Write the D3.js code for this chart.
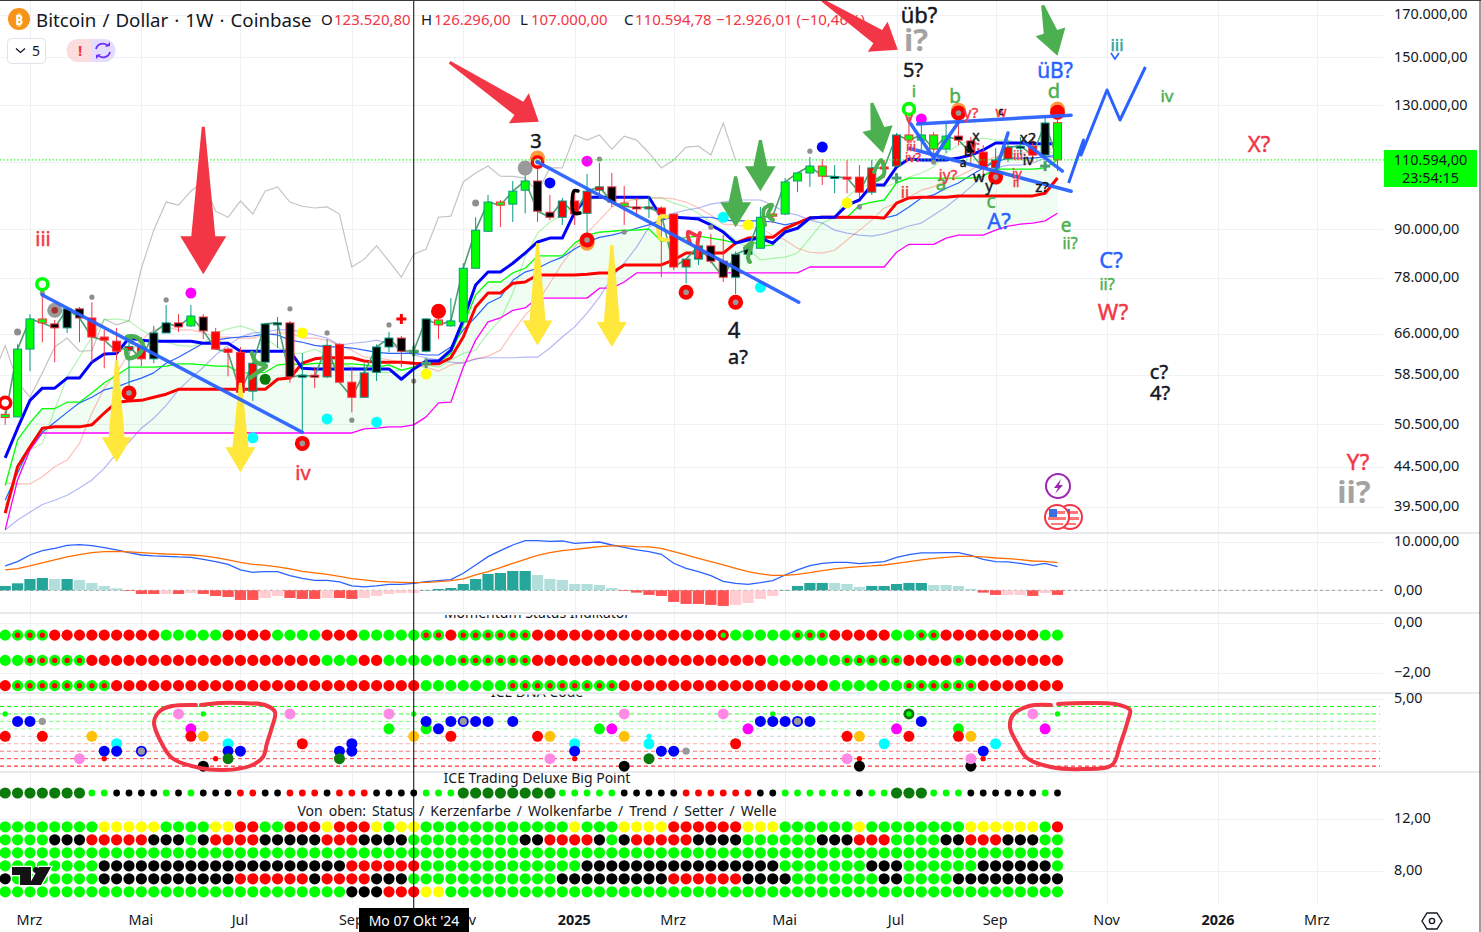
<!DOCTYPE html>
<html><head><meta charset="utf-8">
<style>html,body{margin:0;padding:0;background:#fff;overflow:hidden}svg{display:block}text{font-family:"Noto Sans",sans-serif}</style>
<script src="https://cdn.jsdelivr.net/npm/d3@7"></script>
</head><body><svg id="c" width="1481" height="932"></svg>
<script>
// ---------- DATA (prices in thousand USD) ----------
const opens=[52,51.6,63.1,69,68,67.2,71.1,69.2,65.4,64.6,62.9,63.6,61.3,66.2,68.2,67.6,69.4,66.4,63.1,62.5,55.7,60.7,68.1,68.2,58.1,58.4,58.1,64,57.2,54.7,58.9,63.5,65.2,62.7,62.7,68.8,67.6,68.4,80.2,89.5,97.6,97,101.1,103.9,94.7,93.3,97.9,94.4,101.1,102.1,97.3,96.2,96,95.9,94.2,80.5,82.4,85.7,81.9,78.1,83.6,85.1,94.2,94.2,103.9,106.4,108.6,105.1,105.1,105.1,100.5,108.3,108.6,119.1,117.3,119.1,114.2,118.7,117,113.2,108,110.9,114.9,115.2,112.2,123.52];
const highs=[52.6,64,70,74.5,68.8,71.5,71.5,72.5,66.8,67.2,65.4,65.4,67.6,71.9,70,71.9,70,67.2,63.5,63.5,60.5,68.2,69.4,68.6,62.3,59.8,65,64.2,59.6,60.5,64,66.4,65.6,64.2,69,69.2,73.4,81.4,93.3,99.7,98.2,103.9,109.6,113.2,99.7,98.8,101.1,106.1,109.6,106.4,102.4,98.8,99.4,96.4,94.2,82.4,85.7,88.8,88.5,84.3,86.4,96.2,94.4,104.8,106.4,111.6,110.9,108.9,110.6,108.9,110.6,110.6,119.8,124.9,123.7,120.1,123.4,124.9,118.4,115.6,114.5,117.3,118.4,118.4,125.6,126.3];
const lows=[50.4,51.6,59.1,64.4,60.7,66.2,64.4,60.7,59.6,60.5,55.9,60,60.5,66.2,66.4,67.4,65,63.1,58.2,53.4,54.1,60.5,63.3,57.1,49.3,56.2,57.9,57.2,52.3,54.6,57.4,62.5,59.8,61.1,62.5,65,67.4,68.4,80.2,89.3,90.6,92,94.4,92,92.5,91.2,91.2,89,98.8,96.2,91.2,93.3,93.1,78.1,79.8,76.7,81,81.4,77,74.3,81.4,85.1,91.7,93.9,100.5,102.1,102.7,100.2,100.2,98.8,99.7,104.8,108.3,115.6,112.9,110.6,112.9,115.6,109.6,105.1,104.2,109.9,112.2,109.9,111.6,107];
const closes=[51.5,63.1,69,68.2,67.2,71.1,69.2,65.4,64.8,62.7,63.6,61.3,66.2,68.2,67.4,69.6,66.6,63.1,62.5,55.5,60.5,68,68.2,58.1,58.4,58.2,63.8,57.2,54.7,58.8,63.5,65.2,62.7,62.8,69,67.8,68.6,80.2,89.8,97.6,96.7,100.8,103.9,95,93.3,97.9,94.2,100.8,102.1,97.6,96.4,95.9,96.2,94.2,80.5,82.4,85.7,81.9,78.1,83.6,84.9,93.3,93.6,103.6,106.4,108.6,105.4,105.3,104.8,100.5,108,108,119.1,117.3,119.1,114.2,118.7,117.3,112.9,108,110.6,114.9,115.2,112.2,123.4,110.594];
const bodyFills="G4 K3 R5 K3 G1 K1 R4 K5 R4 K5 G8 K2 R4 K1 G1 K1 R5 K4 G6 K1 R5 G4 K2 R3 K1 R1 K1 G2";
const priceTicks=[170,150,130,110,90,78,66,58.5,50.5,44.5,39.5];
const timeTickBars=[2,11,19,28,37,46,54,63,72,80,89,98,106];
const timeTickLabels=["Mrz","Mai","Jul","Sep","Nov","2025","Mrz","Mai","Jul","Sep","Nov","2026","Mrz"];

const blueThick=[45.7,49.9,54.2,56.2,56.2,57.9,57.9,60.7,62.2,62.3,65.2,64.8,64.6,64.6,64.6,64.6,64.2,64.2,64.2,62.7,62.7,62.7,62.7,62.7,59.6,59.5,59.5,59.5,59.5,59.5,59.5,59.5,57.7,59.5,60.9,60.9,62.9,68.8,76.3,79.3,79.3,81.4,83.9,86.7,87.7,87.7,94.7,99,99,99,99,99,99,93.3,93.3,93.1,92.8,91.2,89.3,86.4,87.2,87.7,86.4,89.3,90.3,93.1,93.3,93.3,96.7,98.2,102.7,102.7,108.3,110.9,110.6,110.6,110.6,111.2,112.2,113.9,116.3,116.3,116.3,116,116,116];
const redThick=[38.8,44.5,47.2,49.9,50.1,50.1,50.1,50.4,52.2,53.9,54.1,54.2,54.7,55.2,56,56,56,56,56,56,56,56,57.7,57.9,60.5,61.3,61.5,61.5,61.5,60.9,60.7,60.7,60.7,60.5,60.4,60.4,61.5,65.4,71.5,74.5,74.5,76.7,77,78.6,78.6,78.6,78.6,78.8,79.1,79.1,81,81,81,81,82.2,83.9,83.9,83.9,83.9,86.4,87.7,87.9,87.9,90.3,91.7,93.1,93.3,93.3,93.3,93.3,93.3,93.1,97.3,98.8,99,99,99,99.4,99.4,99.4,99.4,99.4,99.4,99.4,100.2,104.8];
const limeLine=[42.1,48.2,50.7,52.9,52.9,53.9,53.9,55.4,57.1,58.4,59.8,59.8,59.8,60,60.4,60.4,60.2,60,60,58.8,58.8,58.9,60.2,60.4,60.2,60.5,60.5,60.4,60.4,60.2,59.8,60.2,59.3,59.8,60.7,60.7,62.3,67.8,74.1,77,77,79.1,80.2,83.2,83.2,83.2,86.4,88.5,89.3,89.5,89.8,89.8,90.1,86.9,87.2,87.9,88.2,87.7,87.2,86.4,87.4,85.7,85.9,89.8,91.7,93.3,93.3,93.3,93.3,96.7,97.6,98.2,103.3,104.8,104.8,104.8,104.8,104.8,104.8,105.4,107.6,107.6,107.6,107.6,108,110.6];
const blueThin=[40.3,43.7,47.2,49.3,50.8,52.3,53.8,54.7,55.9,56.4,57.2,57.9,58.8,60.5,61.6,62.9,64.2,64.8,65.2,65.4,65.6,66,65.8,64.8,64.4,63.8,63.5,63.5,63.3,62.9,62.5,62.3,62.3,62.3,62,62,63.5,66.8,69.4,72.3,73.6,77.4,79.3,80.2,81.7,82.9,84.9,86.7,87.9,88.5,89.3,90.3,91.2,92.5,93.3,93.3,93.3,93.3,92.5,92.3,92.3,92.3,92,91.2,92,93.1,93.3,93.1,93.1,93.1,93.1,93.1,93.9,96.2,98.8,99.7,101.7,103.3,105.7,108,109.9,111.2,111.2,111.2,111.6,112.2];
const bluePale=[36.9,38,38.9,39.8,40.3,40.9,41.8,42.8,44.3,46.3,47.9,49.9,51.4,53.4,55.9,57.9,59.8,62,63.8,65.4,66.2,66.4,66.8,66.8,66.4,65.8,65.2,63.8,64.2,64.4,64.8,64.2,62.9,62,61.5,61.1,60.7,60.5,61.3,61.5,61.5,61.5,61.6,61.6,63.3,65.4,67.4,70.2,73.6,78.1,81.4,85.4,90.6,93.1,94.4,95.3,95.9,97,97.6,98.2,98.2,98.2,96.7,94.7,93.9,92.5,91.7,89.8,89,88.5,88.2,88.8,89.8,90.9,91.7,93.9,96.2,99,102.1,105.7,108,108.9,108.9,109.6,111.2,111.6];
const magentaLine=[36.9,42.8,46.8,49.2,49.2,49.2,49.2,49.2,49.2,49.2,49.2,49.2,49.2,49.2,49.2,49.2,49.2,49.2,49.2,49.2,49.2,49.2,49.2,49.2,49.2,49.2,49.2,49.2,49.2,49.8,49.9,50.1,50.1,50.4,51.6,53.8,53.9,59.8,64.8,68.4,69.2,70.8,71.3,73.4,73.4,73.4,73.4,73.4,75.6,75.6,77,79.1,79.1,79.1,79.1,79.1,79.1,79.1,79.1,79.1,79.1,79.1,79.1,79.1,79.1,80.5,80.5,80.5,80.5,80.5,80.5,80.5,84.1,86.1,86.1,86.1,87.7,88.5,88.5,88.5,89.8,90.9,91.4,91.7,92.3,94.4];
const redPale=[42.4,42.3,42.3,43.2,44.5,45.4,47.7,52.2,56.2,58.8,62.3,64.8,66.8,67.4,66.8,66.8,66.2,65.4,65.4,65.2,65.2,65.8,66.2,66.2,65.2,65.2,64.8,63.8,62.9,61.6,61.5,61.1,60.7,60.2,59.8,59.1,60.2,60.7,61.3,61.8,62.9,66.4,69.8,72.5,76.7,81.4,85.4,89,92.5,96.2,97.6,98.5,98.8,98.8,98.5,97.6,95.9,93.9,91.4,91.2,90.6,90.3,88.5,87.2,85.1,84.1,83.9,84.6,87.2,89.8,92.5,95.9,97.3,99,101.1,102.1,104.2,105.4,107.3,109.9,111.6,112.5,112.9,113.2,113.9,114.5];
const greenPale=[39.7,42.8,46.8,47.7,52.7,58.1,61.6,65.4,68.8,69,68.6,66.8,65.4,64.4,63.8,63.6,64.2,66.2,67,67.6,66.8,65.2,63.5,62.3,62.3,63.1,62,60.5,59.8,59.3,58.9,58.9,59.3,59.6,60.2,59.8,61.1,62.3,62.9,66.2,68.8,74.5,82.9,89,92,93.9,96.7,98.2,98.8,98.8,98.8,98.2,98.8,98.8,97.3,96.2,94.4,92,89.8,87.2,85.1,82.2,82.6,82.9,83.9,87.7,91.7,93.3,99,102.1,102.7,102.1,103.3,105.1,106.4,108.3,112.9,115.6,117.3,118,117.3,117.3,116.3,115.6,114.5,111.6];

const macdHist=[900,1450,2340,2550,2340,2340,2140,1520,900,410,-140,-760,-760,-760,-760,-550,-760,-1170,-1380,-2000,-2000,-1590,-1170,-1590,-1790,-1790,-1590,-1590,-1790,-1590,-1170,-760,-550,-550,70,280,480,1310,2340,3380,3580,4000,4000,3170,2340,2140,1310,1310,1100,480,-140,-480,-960,-1170,-2410,-2820,-2820,-3030,-3240,-3030,-2620,-1790,-1170,70,900,1520,1520,1520,1310,690,900,900,1310,1520,1520,1100,1100,900,280,-480,-960,-960,-960,-1170,-550,-960];
const macdHistColors="D4 L1 D1 L4 r3 p1 r1 p1 r5 p2 r3 p1 r2 p5 D9 L7 r9 p4 D4 L3 D5 L4 r2 p2 r1 p1 r1";
const macdLine=[5040,5930,7310,8210,8690,9310,9450,9250,8830,8350,7800,7310,7110,7040,6900,6830,6420,5930,5380,4210,3730,3860,3860,3040,2480,2070,2070,1730,900,690,900,1240,1240,1450,1790,2000,2210,3520,5240,6970,8210,9380,10280,10280,10140,10210,9730,9870,10000,9380,8900,8350,8000,7450,5590,4550,3860,3040,1860,1450,1240,1590,2000,3170,4210,5110,5590,5800,5800,5520,5730,5930,6830,7380,7730,7730,7800,7800,7250,6420,5930,5870,5590,5180,5590,4900];
const signalLine=[4210,4490,5040,5660,6280,6900,7380,7800,8000,8070,7940,7800,7660,7520,7450,7310,7110,6760,6280,5800,5380,5180,4830,4420,3930,3590,3310,2900,2420,2140,1860,1730,1660,1590,1660,1790,2000,2350,3170,3860,4690,5590,6420,7250,7800,8210,8490,8760,9040,9180,9180,9040,8970,8690,8000,7310,6620,5930,5240,4550,3860,3380,3100,3100,3310,3660,4070,4420,4690,4900,5040,5240,5590,5930,6280,6620,6830,7040,7040,6900,6690,6550,6350,6070,6000,5730];
const macdTicks=[10000,0];

const momentumRows=[
 "G1 g3 R9 G5 R4 G4 R3 G5 g2 R1 g6 R15 r1 G5 g3 R5 G2 g2 R8 G2",
 "G2 g5 R19 G3 R2 G6 g6 R19 G6 g5 R4 g1 R8",
 "R1 g8 R25 G7 g9 R17 G6 g6 R7"];
const momentumValues=[-0.5,-1.5,-2.5];
const momentumTicks=[0,-2];
const dnaLevels=[4,3,2,1,0,-1,-2,-3,-4];
const dnaDots=[[0,3,"limeS"],[0,0,"red"],[1,2,"blue"],[2,2,"blue"],[3,2,"grayM"],[3,0,"red"],[6,-3,"pink"],[7,0,"orange"],[8,-2,"blue"],[8,-3,"redS"],[9,-1,"cyan"],[9,-2,"blue"],[11,-2,"blueGray"],[14,3,"pink"],[15,1,"magenta"],[15,0,"red"],[16,3,"limeS"],[16,0,"orange"],[16,-4,"black"],[17,-3,"redS"],[18,-1,"cyan"],[18,-2,"blue"],[18,-3,"dgreen"],[19,-2,"blue"],[23,3,"pink"],[24,-1,"red"],[27,-2,"blue"],[27,-3,"dgreen"],[28,-1,"blue"],[28,-2,"blue"],[31,3,"pink"],[31,1,"lime"],[33,3,"limeS"],[33,0,"orange"],[34,1,"lime"],[34,2,"blue"],[35,1,"blue"],[36,2,"blue"],[36,0,"red"],[37,2,"blueGray"],[38,2,"blue"],[39,2,"blue"],[41,2,"blue"],[43,0,"red"],[44,0,"orange"],[44,-3,"pink"],[46,-1,"cyan"],[46,-2,"blue"],[46,-3,"redS"],[48,1,"lime"],[49,1,"magenta"],[50,3,"pink"],[50,0,"orange"],[50,-4,"black"],[52,0,"cyanS"],[52,-1,"cyan"],[52,-3,"dgreen"],[53,-2,"blue"],[54,-2,"blue"],[55,-2,"grayM"],[58,3,"pink"],[59,-1,"red"],[60,1,"magenta"],[61,2,"blue"],[62,3,"limeS"],[62,2,"blue"],[63,2,"blue"],[64,2,"blueGray"],[65,2,"blue"],[68,0,"red"],[68,-3,"pink"],[69,0,"orange"],[69,-3,"redS"],[69,-4,"black"],[71,-1,"cyan"],[72,1,"magenta"],[73,3,"dgreenRing"],[73,0,"red"],[74,2,"blue"],[77,1,"lime"],[77,0,"red"],[78,0,"orange"],[78,-4,"black"],[78,-3,"pink"],[79,-2,"blue"],[79,-3,"redS"],[80,-1,"cyan"],[83,3,"pink"],[84,1,"magenta"],[85,3,"limeS"]];
const bigPointRow="D7 L2 K4 L1 K1 L1 K3 R2 K2 R3 K1 R3 K4 L3 D8 L5 K5 R6 K2 L6 K1 L2 D3 L3 K6 L1 K1";
const statusRows=[
 "G8 Y5 G4 Y2 R2 G2 R3 Y1 R3 Y1 G1 Y2 G12 Y1 G3 Y4 R6 Y3 G6 Y1 G8 Y6 G1 R1",
 "G4 K3 R5 K3 G1 K1 R4 K5 R3 K4 G9 K2 R4 K1 G1 K1 R5 K4 G6 K3 R3 G4 K2 R3 K3 G2",
 "G86",
 "G8 K20 R6 G13 K16 G7 K3 G6 K6 G1",
 "K1 G7 K11 R6 K1 R4 K3 G12 K9 R6 K4 G7 K2 G4 K9",
 "G28 K3 R3 Y2 G50"];
const statusValues=[11.4,10.4,9.4,8.4,7.4,6.4];
const bigPointValue=14;
const statusTicks=[12,8];
// signal dots on the price pane: bar, price (k), kind
const mainDots=[[0,53.8,"redOpen"],[1,66.4,"grayM"],[3,74.5,"grayS"],[3,76.5,"limeRing"],[4,70.8,"grayBig"],[7,73.6,"grayS"],[10,55.4,"redGray"],[13,73,"grayS"],[15,74.5,"magenta"],[21,57.7,"dgreen"],[20,48.5,"cyan"],[23,71.1,"grayS"],[24,66.2,"yellow"],[24,47.7,"redGray"],[26,66.2,"grayS"],[26,51.3,"cyan"],[28,51.1,"grayS"],[30,50.8,"cyan"],[31,67.8,"grayS"],[33,57.4,"grayS"],[34,58.6,"yellow"],[35,70.6,"red"],[38,97.3,"grayM"],[42,108,"grayBig2"],[43,111.2,"orange"],[43,109.9,"redOpenGray"],[44,103.3,"blue"],[47,110.2,"magenta"],[47,86.4,"orange"],[47,87.2,"redGray"],[48,110.9,"grayS"],[50,89.3,"grayS"],[55,74.7,"redGray"],[57,90.6,"grayS"],[58,93.3,"cyan"],[59,72.5,"redGray"],[60,91.2,"yellow"],[61,75.8,"cyan"],[65,113.5,"grayS"],[66,114.9,"blue"],[68,97.3,"yellow"],[69,96.2,"grayS"],[73,128.6,"limeRing"],[73,124.9,"grayS"],[74,124.9,"magenta"],[75,109.9,"grayS"],[77,128.2,"orange"],[77,127.1,"redGray"],[80,105.1,"redGray"],[85,128.6,"orange"],[85,127.4,"red"]];
const plusMarks=[[32,69,"#ff0000"],[33,62.7,"#4c9f70"],[34,60.5,"#4c9f70"],[72,104.8,"#4c9f70"],[84,108.6,"#4c9f70"]];
// drawn trend lines: [bar, price] vertices
const trendLines=[
 [[3,74.1],[24,49.3]],
 [[43,109.9],[64.1,72.5]],
 [[73.7,123],[86.1,126.3]],
 [[73,114.5],[86.1,100.8]],
 [[73.1,123.4],[75,111.2],[77,123.7]],
 [[80.1,108],[81,119.8]],
 [[82.3,116.6],[85.4,107]]];
const forecastLine=[[85.9,103.3],[87.1,117.3],[86.9,112.2],[89,136.1],[90.05,124.5],[92.1,145.7]];
// drawn arrows: tail bar, tail price, tip bar, tip price, kind
const bigArrows=[[16,122,16,78.8,"redV"],[35.9,147.8,43.1,123.9,"redD"],[66,177.6,72.1,153.3,"redD"],
 [9,61.1,9,45.1,"yellow"],[19,57.1,19,43.8,"yellow"],[43,86.4,43,63.8,"yellow"],[49,85.9,49,63.5,"yellow"],
 [59,105.4,59,90.6,"green"],[61,117.3,61,100.8,"green"],[70,131,70.9,112.9,"green"],[83.8,175,85,150.6,"green"]];
const lastPrice=110.594;

// ---------- HELPERS ----------
const expand=s=>s.trim().split(/\s+/).flatMap(t=>Array(+t.slice(1)).fill(t[0]));
const svg=d3.select("#c");
const W=1481,H=932,PW=1383;
const x=d3.scaleLinear().domain([0,85]).range([5.2,1057.5]);
const y=d3.scaleLog().domain([39.5,170]).range([507,15]);
const yM=d3.scaleLinear().domain([0,10000]).range([590.3,542]);
const yS=d3.scaleLinear().domain([0,-2]).range([622.5,673]);
const yD=d3.scaleLinear().domain([0,5]).range([736.3,699]);
const yT=d3.scaleLinear().domain([8,12]).range([871,819]);
const deNum=(v,d=2)=>v.toLocaleString("de-DE",{minimumFractionDigits:d,maximumFractionDigits:d});
const ink="#131722",RED="#f23645",GRN="#4caf50",BLU="#2962ff",TEAL="#089981";
const bars=d3.range(opens.length);
const fillsG=expand(bodyFills);
const fillMap={G:"#00ff00",R:"#ff0000",K:"#000000",Y:"#ffff00"};
svg.append("rect").attr("width",W).attr("height",H).attr("fill","#fff");
const defs=svg.append("defs");
defs.append("clipPath").attr("id","mainClip").append("rect").attr("width",PW).attr("height",532);
defs.append("clipPath").attr("id","momClip").append("rect").attr("y",615).attr("width",PW).attr("height",40);
defs.append("clipPath").attr("id","dnaClip").append("rect").attr("y",694.5).attr("width",PW).attr("height",40);
defs.append("clipPath").attr("id","ictClip").append("rect").attr("y",773).attr("width",PW).attr("height",30);

// grid
const grid=svg.append("g").attr("stroke","#f0f1f4").attr("stroke-width",1).attr("shape-rendering","crispEdges");
const hg=[...priceTicks.map(v=>y(v)),...macdTicks.map(v=>yM(v)),...momentumTicks.map(v=>yS(v)),yD(5),...statusTicks.map(v=>yT(v))];
grid.selectAll("line.h").data(hg).join("line").attr("x1",0).attr("x2",PW).attr("y1",d=>Math.round(d)).attr("y2",d=>Math.round(d));
grid.selectAll("line.v").data(timeTickBars).join("line").attr("x1",d=>Math.round(x(d))).attr("x2",d=>Math.round(x(d))).attr("y1",0).attr("y2",905);
const seps=svg.append("g").attr("stroke","#e8e9ed").attr("stroke-width",2).attr("shape-rendering","crispEdges");
[533,613,693,772].forEach(v=>seps.append("line").attr("x1",0).attr("x2",W).attr("y1",v).attr("y2",v));

// ---- main pane
const main=svg.append("g").attr("clip-path","url(#mainClip)");
main.append("path").datum(bars).attr("fill","rgba(0,220,40,0.06)")
 .attr("d",d3.area().x(i=>x(i)).y0(i=>y(magentaLine[i])).y1(i=>y(limeLine[i])));
const ln=(f)=>d3.line().defined(i=>f(i)!=null).x(i=>x(i)).y(i=>y(f(i)));
const drawL=(arr,col,w)=>main.append("path").datum(bars).attr("fill","none").attr("stroke",col).attr("stroke-width",w).attr("stroke-linejoin","round").attr("d",ln(i=>arr[i]));
// chikou: closes displaced 26 bars back
main.append("path").datum(d3.range(closes.length)).attr("fill","none").attr("stroke","#c4c4c4").attr("stroke-width",1.2)
 .attr("d",d3.line().x(i=>x(i-26)).y(i=>y(closes[i])));
drawL(greenPale,"rgba(0,220,0,0.3)",1.2);
drawL(redPale,"rgba(255,60,40,0.32)",1.2);
drawL(bluePale,"rgba(20,40,230,0.33)",1.2);
drawL(magentaLine,"#ff00ff",1.3);
drawL(blueThin,BLU,1.2);
drawL(limeLine,"#00ff00",1.3);
drawL(redThick,"#ff0000",3);
drawL(blueThick,"#0000ff",3);
drawL(closes,"#4c9f70",1.6);
// candles
const cG=main.append("g");
const up=i=>closes[i]>=opens[i];
cG.selectAll("line").data(bars).join("line").attr("x1",i=>x(i)).attr("x2",i=>x(i)).attr("y1",i=>y(highs[i])).attr("y2",i=>y(lows[i]))
 .attr("stroke",i=>up(i)?TEAL:RED).attr("stroke-width",1);
cG.selectAll("rect").data(bars).join("rect").attr("x",i=>x(i)-4).attr("width",8)
 .attr("y",i=>Math.min(y(opens[i]),y(closes[i]))).attr("height",i=>Math.max(2,Math.abs(y(opens[i])-y(closes[i]))))
 .attr("fill",i=>fillMap[fillsG[i]]).attr("stroke",i=>up(i)?TEAL:RED).attr("stroke-width",1);
// plus marks
plusMarks.forEach(([b,v,c])=>{const g=main.append("g").attr("transform",`translate(${x(b)},${y(v)})`).attr("stroke",c).attr("stroke-width",3);
 g.append("line").attr("x1",-5).attr("x2",5);g.append("line").attr("y1",-5).attr("y2",5);});
// dots
const drawDot=(g,cx,cy,k)=>{
 const c=(r,f,st,sw)=>g.append("circle").attr("cx",cx).attr("cy",cy).attr("r",r).attr("fill",f).attr("stroke",st||"none").attr("stroke-width",sw||0);
 switch(k){
  case"grayS":c(2.6,"#8e8e8e");break;
  case"grayM":c(3.5,"#8e8e8e");break;
  case"grayBig":c(7.5,"#9a9a9a");c(3.2,"#a5302c");break;
  case"grayBig2":c(7.5,"#9a9a9a");break;
  case"red":c(7.5,"#ff0000");break;
  case"redGray":c(7.5,"#ff0000");c(2.8,"#9a9a9a");break;
  case"redOpen":c(5.5,"#fff","#ff0000",3.6);break;
  case"redOpenGray":c(5.2,"#fff","#ff0000",3.4);c(2.5,"#8e8e8e");break;
  case"limeRing":c(5.5,"#fff","#00ff00",3.6);break;
  case"orange":c(7.5,"#ff9a3c");break;
  case"magenta":c(5.5,"#ff00ff");break;
  case"blue":c(5.5,"#0000ff");break;
  case"cyan":c(5.5,"#00ffff");break;
  case"yellow":c(5.5,"#ffff00");break;
  case"dgreen":c(5.5,"#0a7a0a");break;
 }};
mainDots.forEach(([b,v,k])=>drawDot(main,x(b),y(v),k));
// dotted last price line
svg.append("line").attr("x1",0).attr("x2",1384).attr("y1",y(lastPrice)).attr("y2",y(lastPrice)).attr("stroke","#00ff00").attr("stroke-width",1).attr("stroke-dasharray","1.5 2");

// big arrows
const arrowKinds={redV:{c:RED,s:12,h:23,l:38},redD:{c:RED,s:8,h:18,l:24},yellow:{c:"#ffe83b",s:8,h:15,l:25},green:{c:GRN,s:7,h:15.5,l:25}};
const ov=svg.append("g").attr("clip-path","url(#mainClip)");
bigArrows.forEach(([tb,tv,pb,pv,k])=>{
 const A=arrowKinds[k],x0=x(tb),y0=y(tv),x1=x(pb),y1=y(pv),L=Math.hypot(x1-x0,y1-y0),ux=(x1-x0)/L,uy=(y1-y0)/L,nx=-uy,ny=ux;
 const bx=x1-ux*A.l,by=y1-uy*A.l;
 const P=[[x0-nx*1.5,y0-ny*1.5],[x0+nx*1.5,y0+ny*1.5],[bx+nx*A.s,by+ny*A.s],[bx+nx*A.h,by+ny*A.h],[x1,y1],[bx-nx*A.h,by-ny*A.h],[bx-nx*A.s,by-ny*A.s]];
 ov.append("path").attr("d",d3.line()(P)+"Z").attr("fill",A.c);
});
// hand brush scribbles
const curve=d3.line().curve(d3.curveCatmullRom);
[[[[132,342],[127,337],[136,337],[143,345],[138,355],[128,358],[126,350]],GRN,4.5],
 [[[252,353],[256,362],[266,366],[258,372],[250,378]],GRN,4.5],
 [[[690,243],[688,232],[698,236],[700,233],[698,240],[697,256]],RED,4],
 [[[667,217],[660,217],[660,238],[668,240]],"#ffe83b",4],
 [[[578,191],[574,191],[574,213],[580,213]],"#000",3.5],
 [[[765,225],[764,209],[772,205],[768,215],[773,220]],GRN,4],
 [[[745,248],[752,243],[748,258],[750,262]],GRN,4],
 [[[874,172],[881,160],[884,174],[877,180]],GRN,4]].forEach(([p,c,w])=>ov.append("path").attr("d",curve(p)).attr("fill","none").attr("stroke",c).attr("stroke-width",w).attr("stroke-linecap","round"));
// trend lines
const pl=d3.line().x(d=>x(d[0])).y(d=>y(d[1]));
trendLines.forEach(t=>ov.append("path").attr("d",pl(t)).attr("fill","none").attr("stroke",BLU).attr("stroke-width",3.5).attr("stroke-linecap","round").attr("stroke-linejoin","round").attr("opacity",.95));
ov.append("path").attr("d",pl(forecastLine)).attr("fill","none").attr("stroke",BLU).attr("stroke-width",3).attr("stroke-linejoin","round");
ov.append("path").attr("d","M1111 53L1115 59L1119 53").attr("fill","none").attr("stroke",BLU).attr("stroke-width",1.6);

// annotation labels
const labels=[
 ["iii",43,238,20,RED],["iv",303,472,20,RED],["X?",1259,143,22,RED],["W?",1113,311,22,RED],["Y?",1358,461,22,RED],
 ["3",536,140,20,ink],["4",734,329,22,ink],["a?",738,356,20,ink],["c?",1159,371,20,ink],["4?",1160,392,20,ink],["üb?",919,14,22,ink],["5?",913,69,20,ink],
 ["i",914,90,17,GRN],["b",955,96,19,GRN],["d",1054,90,20,GRN],["a",941,183,19,GRN],["c",991,201,19,GRN],["e",1066,225,19,GRN],["ii?",1070,243,16,GRN],["ii?",1107,284,16,GRN],["iii",1117,44,17,"#26a69a"],["iv",1167,95,17,GRN],
 ["üB?",1055,70,21,BLU],["A?",999,220,22,BLU],["C?",1111,259,22,BLU],
 ["ii",905,192,16,RED],["iy?",948,174,15,RED],["y?",971,112,15,RED],["v",909,117,15,RED],["iii",911,146,13,RED],["iv?",913,157,13,RED],["w",1001,111,14,RED],["iii",1018,155,13,RED],["iy",1017,173,13,RED],["ii",1016,182,13,RED],["v:",975,145,13,RED],
 ["x",976,135,14,ink],["b",968,151,13,ink],["a",963,162,12,ink],["w",979,176,15,ink],["y",989,185,15,ink],["x2",1028,137,15,ink],["iv",1028,159,14,ink],["z?",1042,186,15,ink],["c",1001,110,11,ink]
];
labels.forEach(([t,lx,ly,s,c])=>svg.append("text").text(t).attr("x",lx).attr("y",ly).attr("font-size",s).attr("fill",c).attr("stroke",c).attr("stroke-width",.45).attr("text-anchor","middle").attr("dominant-baseline","central"));
[["i?",916,39,31],["ii?",1354,491,31]].forEach(([t,lx,ly,s])=>svg.append("text").text(t).attr("x",lx).attr("y",ly).attr("font-size",s).attr("font-weight",700).attr("fill","#a3a3a3").attr("text-anchor","middle").attr("dominant-baseline","central"));

// small icons
svg.append("circle").attr("cx",1058).attr("cy",486).attr("r",12).attr("fill","#fff").attr("stroke","#9c27b0").attr("stroke-width",2);
svg.append("path").attr("d","M1061 479L1054 488L1058 488L1055 494L1063 485L1059 485Z").attr("fill","#9c27b0");
[1070,1057].forEach(cx=>{const g=svg.append("g");
 g.append("circle").attr("cx",cx).attr("cy",517).attr("r",12).attr("fill","#fff").attr("stroke",RED).attr("stroke-width",2);
 g.append("rect").attr("x",cx-8).attr("y",511).attr("width",16).attr("height",3).attr("fill","#f77");
 g.append("rect").attr("x",cx-9).attr("y",517).attr("width",18).attr("height",3).attr("fill","#f77");
 g.append("rect").attr("x",cx-6).attr("y",523).attr("width",12).attr("height",2).attr("fill","#f77");
 g.append("rect").attr("x",cx-8).attr("y",509).attr("width",8).attr("height",8).attr("fill","#3d6fe0");});

// ---- MACD
const hc={D:"#26a69a",L:"#b2dfdb",r:"#ff5252",p:"#ffcdd2"};
const hcol=expand(macdHistColors);
svg.append("line").attr("x1",0).attr("x2",PW).attr("y1",yM(0)).attr("y2",yM(0)).attr("stroke","#999").attr("stroke-width",1).attr("stroke-dasharray","3 3");
svg.append("g").selectAll("rect").data(bars).join("rect").attr("x",i=>x(i)-5.6).attr("width",11.2)
 .attr("y",i=>Math.min(yM(0),yM(macdHist[i]))).attr("height",i=>Math.abs(yM(macdHist[i])-yM(0))).attr("fill",i=>hc[hcol[i]]);
const lM=d3.line().x((d,i)=>x(i)).y(d=>yM(d));
svg.append("path").attr("d",lM(macdLine)).attr("fill","none").attr("stroke",BLU).attr("stroke-width",1.3);
svg.append("path").attr("d",lM(signalLine)).attr("fill","none").attr("stroke","#ff6d00").attr("stroke-width",1.3);

// ---- Momentum
const dotRow=(vals,cy,r)=>vals.forEach((k,i)=>{svg.append("circle").attr("cx",x(i)).attr("cy",cy).attr("r",r).attr("fill",k==="G"||k==="g"?"#00ff00":"#ff0000");
 if(k==="g"||k==="r")svg.append("circle").attr("cx",x(i)).attr("cy",cy).attr("r",2.6).attr("fill",k==="g"?"#ff0000":"#00ff00");});
momentumRows.forEach((s,j)=>dotRow(expand(s),yS(momentumValues[j]),5.6));
svg.append("text").text("Momentum Status Indikator").attr("x",537).attr("y",612).attr("font-size",14).attr("fill",ink).attr("text-anchor","middle").attr("dominant-baseline","central").attr("clip-path","url(#momClip)");
svg.append("text").text("ICE DNA Code").attr("x",537).attr("y",691).attr("font-size",14).attr("fill",ink).attr("text-anchor","middle").attr("dominant-baseline","central").attr("clip-path","url(#dnaClip)");

// ---- DNA
const dashCol=d3.scaleLinear().domain([4,1,0,-1,-4]).range(["#00ff00","#a6ffa6","#d0d0d0","#ffaaaa","#ff0000"]);
dnaLevels.forEach(l=>svg.append("line").attr("x1",0).attr("x2",1380).attr("y1",yD(l)).attr("y2",yD(l)).attr("stroke",dashCol(l)).attr("stroke-width",1).attr("stroke-dasharray","4 3"));
const dnaStyle={red:["#ff0000",5.5],blue:["#0000ff",5.5],orange:["#ffc107",5.5],pink:["#ff8ae6",5.5],cyan:["#00ffff",5.5],magenta:["#ff00ff",5.5],lime:["#00ff00",5.5],dgreen:["#0a7a0a",5.5],black:["#000",5.5],grayM:["#9a9a9a",3.6],limeS:["#00ff00",2.6],redS:["#ff0000",2.6],cyanS:["#00ffff",2.6]};
dnaDots.forEach(([b,l,k])=>{
 if(k==="blueGray"){svg.append("circle").attr("cx",x(b)).attr("cy",yD(l)).attr("r",5.5).attr("fill","#0000ff");svg.append("circle").attr("cx",x(b)).attr("cy",yD(l)).attr("r",3.6).attr("fill","#9a9a9a");return;}
 if(k==="dgreenRing"){svg.append("circle").attr("cx",x(b)).attr("cy",yD(l)).attr("r",5.5).attr("fill","#0a7a0a");svg.append("circle").attr("cx",x(b)).attr("cy",yD(l)).attr("r",2.6).attr("fill","#00ff00");return;}
 const s=dnaStyle[k];svg.append("circle").attr("cx",x(b)).attr("cy",yD(l)).attr("r",s[1]).attr("fill",s[0]);});
// hand-drawn ovals
[[[196,705],[172,706],[160,711],[154,722],[160,740],[172,758],[200,768],[224,770],[250,766],[263,757],[267,743],[272,727],[275,712],[265,705],[241,703],[220,703],[201,705]],
 [[1051,705],[1029,706],[1013,715],[1010,727],[1017,743],[1027,758],[1051,767],[1083,769],[1112,765],[1120,745],[1128,720],[1130,710],[1115,704],[1085,703],[1058,704]]]
 .forEach(p=>svg.append("path").attr("d",d3.line().curve(d3.curveCatmullRom)(p)).attr("fill","none").attr("stroke",RED).attr("stroke-width",4).attr("stroke-linecap","round"));

// ---- Trading Deluxe / status
svg.append("text").text("ICE Trading Deluxe Big Point").attr("x",537).attr("y",777).attr("font-size",14).attr("fill",ink).attr("text-anchor","middle").attr("dominant-baseline","central").attr("clip-path","url(#ictClip)");
svg.append("text").text("Von oben: Status / Kerzenfarbe / Wolkenfarbe / Trend / Setter / Welle").attr("x",537).attr("y",810).attr("font-size",14).attr("word-spacing",2.4).attr("fill",ink).attr("text-anchor","middle").attr("dominant-baseline","central");
const bpS={D:["#0a7a0a",5.6],L:["#00ff00",3.4],K:["#000",3.4],R:["#ff0000",3.4]};
expand(bigPointRow).forEach((k,i)=>svg.append("circle").attr("cx",x(i)).attr("cy",yT(bigPointValue)).attr("r",bpS[k][1]).attr("fill",bpS[k][0]));
statusRows.forEach((s,j)=>expand(s).forEach((k,i)=>svg.append("circle").attr("cx",x(i)).attr("cy",yT(statusValues[j])).attr("r",5.6).attr("fill",fillMap[k])));
// watermark logo
svg.append("path").attr("d","M12 867H31V885H20V875H12ZM39 867H51L41 885H29Z").attr("fill","#131313").attr("stroke","#fff").attr("stroke-width",2.5).attr("paint-order","stroke");
svg.append("circle").attr("cx",36).attr("cy",870).attr("r",3).attr("fill","#131313");

// ---- crosshair
svg.append("line").attr("x1",x(33)).attr("x2",x(33)).attr("y1",0).attr("y2",910).attr("stroke","#000").attr("stroke-width",1);

// ---- axes
const axisStyle=g=>{g.select(".domain").remove();g.selectAll(".tick line").remove();g.selectAll("text").attr("font-family",'"Noto Sans",sans-serif').attr("font-size",14.4).attr("fill",ink).attr("dy","0.27em");};
const axR=(scale,vals,fmt)=>svg.append("g").attr("transform","translate(1394,0)").call(d3.axisRight(scale).tickValues(vals).tickFormat(fmt).tickSize(0).tickPadding(0)).call(axisStyle);
axR(y,priceTicks.filter(v=>v!==110),v=>deNum(v*1000));
axR(yM,macdTicks,v=>deNum(v));
axR(yS,momentumTicks,v=>deNum(v).replace("-","−"));
axR(yD,[5],v=>deNum(v));
axR(yT,statusTicks,v=>deNum(v));
const tAx=svg.append("g").attr("transform","translate(-1,920)").call(d3.axisBottom(x).tickValues(timeTickBars).tickFormat((d,i)=>timeTickLabels[i]).tickSize(0).tickPadding(0)).call(axisStyle);
tAx.selectAll("text").attr("dy","0.32em").attr("font-weight",(d,i)=>/^20/.test(timeTickLabels[i])?700:400);
// date tag
svg.append("rect").attr("x",359).attr("y",908).attr("width",110).attr("height",24).attr("fill","#000");
svg.append("text").text("Mo 07 Okt '24").attr("x",414).attr("y",920).attr("font-size",14).attr("fill","#fff").attr("text-anchor","middle").attr("dominant-baseline","central");
// settings icon
svg.append("path").attr("d","M1427 913h10l5 8l-5 8h-10l-5-8Z").attr("fill","none").attr("stroke",ink).attr("stroke-width",1.4);
svg.append("circle").attr("cx",1432).attr("cy",921).attr("r",2.6).attr("fill","none").attr("stroke",ink).attr("stroke-width",1.4);
// last price tag
svg.append("rect").attr("x",1384).attr("y",150).attr("width",93).attr("height",37).attr("fill","#00ff00");
svg.append("text").text(deNum(lastPrice*1000)).attr("x",1430.5).attr("y",159.5).attr("font-size",14.4).attr("fill",ink).attr("text-anchor","middle").attr("dominant-baseline","central");
svg.append("text").text("23:54:15").attr("x",1430.5).attr("y",177.5).attr("font-size",14.4).attr("fill",ink).attr("text-anchor","middle").attr("dominant-baseline","central");

// ---- header
svg.append("line").attr("x1",0).attr("x2",W).attr("y1",0.5).attr("y2",0.5).attr("stroke","#3a3a3a").attr("stroke-width",1);
svg.append("line").attr("x1",1480).attr("x2",1480).attr("y1",0).attr("y2",H).attr("stroke","#3a3a3a").attr("stroke-width",1);
svg.append("circle").attr("cx",19).attr("cy",19).attr("r",11).attr("fill","#f7931a");
svg.append("text").text("₿").attr("x",19).attr("y",19.5).attr("font-size",14).attr("font-weight",700).attr("fill","#fff").attr("text-anchor","middle").attr("dominant-baseline","central").attr("font-family","DejaVu Sans");
svg.append("text").text("Bitcoin / Dollar · 1W · Coinbase").attr("x",36).attr("y",19).attr("font-size",18.7).attr("word-spacing",1.2).attr("fill",ink).attr("dominant-baseline","central");
const hd=[["O",321,ink],["123.520,80",334,RED],["H",421,ink],["126.296,00",434,RED],["L",520,ink],["107.000,00",531,RED],["C",624,ink],["110.594,78",635,RED],["−12.926,01 (−10,46%)",716,RED]];
hd.forEach(([t,hx,c])=>svg.append("text").text(t).attr("x",hx).attr("y",19).attr("font-size",15).attr("fill",c).attr("dominant-baseline","central"));
svg.append("rect").attr("x",7.5).attr("y",38.5).attr("width",38).attr("height",25).attr("rx",4).attr("fill","#fff").attr("stroke","#e0e3eb");
svg.append("path").attr("d","M16 48.5l4.5 4l4.5-4").attr("fill","none").attr("stroke",ink).attr("stroke-width",1.3);
svg.append("text").text("5").attr("x",36).attr("y",50).attr("font-size",14).attr("fill",ink).attr("text-anchor","middle").attr("dominant-baseline","central");
svg.append("path").attr("d","M91 39H78a11.5 11.5 0 0 0 0 23H91Z").attr("fill","#fbdde0");
svg.append("path").attr("d","M91 39H104a11.5 11.5 0 0 1 0 23H91Z").attr("fill","#e6dcff");
svg.append("text").text("!").attr("x",80).attr("y",50).attr("font-size",15).attr("font-weight",700).attr("fill",RED).attr("text-anchor","middle").attr("dominant-baseline","central");
svg.append("path").attr("d","M96 49a7 7 0 0 1 12-3M110 52a7 7 0 0 1-12 3").attr("fill","none").attr("stroke","#6a2cff").attr("stroke-width",1.8);
svg.append("path").attr("d","M105 47l5-1v-4ZM101 54l-5 1v4Z").attr("fill","#6a2cff");
</script></body></html>
